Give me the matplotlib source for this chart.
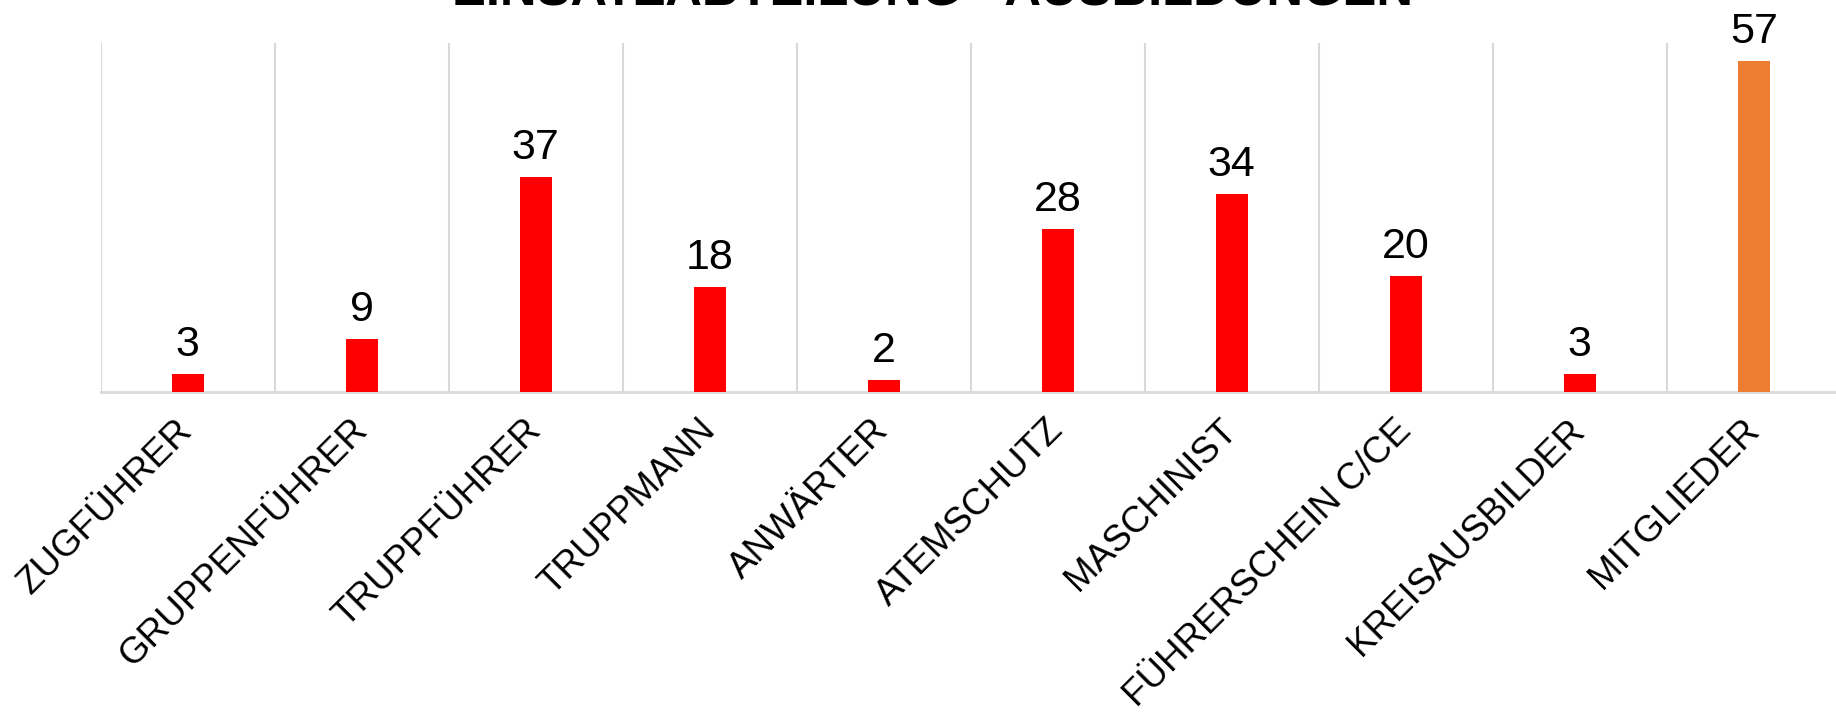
import matplotlib
matplotlib.use("Agg")
import matplotlib.pyplot as plt

categories = ["ZUGFÜHRER", "GRUPPENFÜHRER", "TRUPPFÜHRER", "TRUPPMANN", "ANWÄRTER",
              "ATEMSCHUTZ", "MASCHINIST", "FÜHRERSCHEIN C/CE", "KREISAUSBILDER", "MITGLIEDER"]
values = [3, 9, 37, 18, 2, 28, 34, 20, 3, 57]
bar_colors = ["#FF0000"] * 9 + ["#ED7D31"]
title = "EINSATZABTEILUNG - AUSBILDUNGEN"

plt.rcParams['font.family'] = ['Liberation Sans', 'DejaVu Sans']

W, H = 1836, 712
fig = plt.figure(figsize=(W / 100, H / 100), dpi=100)
left = 100.7 / W
right = 1840.7 / W
bottom = 1 - 391.7 / H
top = 1 - 43.3 / H
ax = fig.add_axes([left, bottom, right - left, top - bottom])

x = list(range(len(categories)))
ax.bar(x, values, width=0.185, color=bar_colors, zorder=3)
ax.set_xlim(-0.5, len(categories) - 0.5)
ax.set_ylim(0, 60)

for xi, v in zip(x, values):
    ax.annotate(str(v), (xi, v), xytext=(0, 6.5), textcoords='offset points',
                ha='center', va='bottom', fontsize=31, color='black')

# category separator gridlines
for b in range(len(categories) + 1):
    ax.axvline(b - 0.5, color='#D9D9D9', lw=1.5, zorder=1)

for s in ['top', 'right', 'left']:
    ax.spines[s].set_visible(False)
ax.spines['bottom'].set_color('#D9D9D9')
ax.spines['bottom'].set_linewidth(2)
ax.set_yticks([])
ax.set_xticks(x)
ax.set_xticklabels(categories, rotation=45, ha='right', va='center',
                   rotation_mode='anchor', fontsize=26.5)
ax.tick_params(axis='x', length=0, pad=24)

fig.text(933 / W, 1 - 5 / H, title, ha='center', va='baseline',
         fontsize=36.5, fontweight='bold', color='black')

fig.savefig("out.png", dpi=100)
